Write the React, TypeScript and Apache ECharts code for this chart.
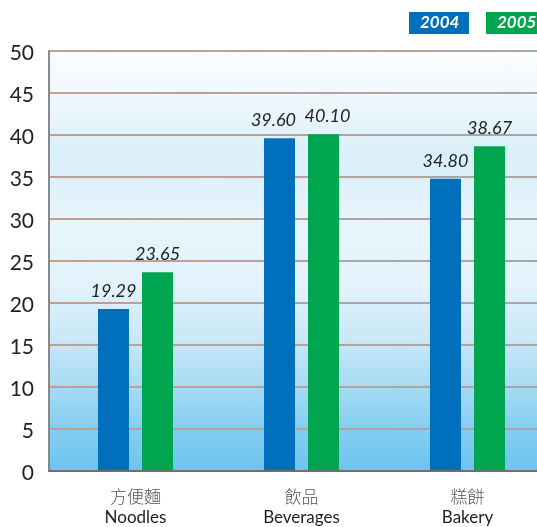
import React, { useEffect, useRef } from "react";
import * as echarts from "echarts";

const categoriesZh = ["方便麵", "飲品", "糕餅"];
const categoriesEn = ["Noodles", "Beverages", "Bakery"];
const seriesNames = ["2004", "2005"];
const values2004 = [19.29, 39.6, 34.8];
const values2005 = [23.65, 40.1, 38.67];
const yTicks = [0, 5, 10, 15, 20, 25, 30, 35, 40, 45, 50];

const BLUE = "#0070bd";
const GREEN = "#00a54f";

export default function App() {
  const ref = useRef<HTMLDivElement>(null);
  useEffect(() => {
    if (!ref.current) return;
    const chart = echarts.init(ref.current, null, { renderer: "svg" });
    const lineGrad = new echarts.graphic.LinearGradient(
      49,
      0,
      537,
      0,
      [
        { offset: 0, color: "#c29e8e" },
        { offset: 0.45, color: "#b9a29a" },
        { offset: 1, color: "#a8a6a5" },
      ],
      true
    );
    const bgGrad = new echarts.graphic.LinearGradient(0, 0, 0, 1, [
      { offset: 0, color: "#fbfdfe" },
      { offset: 0.12, color: "#eef7fc" },
      { offset: 0.25, color: "#d9effa" },
      { offset: 0.4, color: "#e6f4fb" },
      { offset: 0.55, color: "#e4f3fb" },
      { offset: 0.68, color: "#cbe8f8" },
      { offset: 0.8, color: "#a6dbf4" },
      { offset: 0.9, color: "#84cef1" },
      { offset: 1, color: "#6cc5ee" },
    ]);
    const labelBase = {
      show: true,
      position: "top" as const,
      distance: 10,
      fontFamily: "Lato",
      fontStyle: "italic" as const,
      fontSize: 18,
      color: "#222",
      formatter: (p: any) => Number(p.value).toFixed(2),
    };
    const shift2004 = [0, -6, 0];
    const shift2005 = [0, 4, 0];
    const yMin = yTicks[0];
    const yMax = yTicks[yTicks.length - 1];
    chart.setOption({
      animation: false,
      grid: [
        {
          left: 52.5,
          top: 51,
          width: 498,
          height: 420,
          show: false,
          containLabel: false,
          outerBoundsMode: "none",
        },
        {
          left: 49,
          top: 51,
          width: 488,
          height: 420,
          show: true,
          backgroundColor: bgGrad,
          borderWidth: 0,
          containLabel: false,
          outerBoundsMode: "none",
        },
      ],
      legend: { show: false },
      xAxis: [
        {
          type: "category",
          gridIndex: 0,
          data: categoriesEn.map((en, i) => categoriesZh[i] + "\n" + en),
          axisLine: { show: false },
          axisTick: { show: false },
          axisLabel: {
            margin: 13,
            formatter: (v: string) => {
              const [zh, en] = v.split("\n");
              return "{zh|" + zh + "}\n{en|" + en + "}";
            },
            rich: {
              zh: {
                fontFamily: "Noto Sans CJK TC",
                fontWeight: 300,
                fontSize: 17,
                color: "#555",
                lineHeight: 22,
              },
              en: {
                fontFamily: "Lato",
                fontSize: 17,
                color: "#1e1e1e",
                lineHeight: 21,
              },
            },
          },
        },
        {
          type: "category",
          gridIndex: 1,
          data: ["a"],
          axisLine: { show: true, lineStyle: { color: "#6f6f6f", width: 2 } },
          axisTick: { show: false },
          axisLabel: { show: false },
          splitLine: { show: false },
          z: 5,
        },
      ],
      yAxis: [
        {
          type: "value",
          gridIndex: 0,
          min: yMin,
          max: yMax,
          interval: 5,
          show: false,
          splitLine: { show: false },
        },
        {
          type: "value",
          gridIndex: 1,
          min: yMin,
          max: yMax,
          interval: 5,
          axisLine: { show: true, lineStyle: { color: "#8a8a8a", width: 2 } },
          axisTick: { show: false },
          axisLabel: {
            margin: 15,
            fontFamily: "Lato",
            fontSize: 21,
            color: "#222",
          },
          splitLine: { show: true, lineStyle: { color: lineGrad, width: 2 } },
        },
      ],
      series: [
        {
          name: seriesNames[0],
          type: "bar",
          xAxisIndex: 0,
          yAxisIndex: 0,
          data: values2004.map((v, i) => ({
            value: v,
            label: { offset: [shift2004[i], 0] },
          })),
          barWidth: 31,
          barGap: "42%",
          itemStyle: { color: BLUE },
          label: labelBase,
          z: 3,
        },
        {
          name: seriesNames[1],
          type: "bar",
          xAxisIndex: 0,
          yAxisIndex: 0,
          data: values2005.map((v, i) => ({
            value: v,
            label: { offset: [shift2005[i], 0] },
          })),
          barWidth: 31,
          itemStyle: { color: GREEN },
          label: labelBase,
          z: 3,
        },
      ],
      graphic: [
        {
          type: "rect",
          left: 409,
          top: 12,
          shape: { width: 60, height: 22 },
          style: { fill: BLUE },
        },
        {
          type: "text",
          left: 420,
          top: 13,
          style: {
            text: seriesNames[0],
            fill: "#fff",
            fontFamily: "Lato",
            fontStyle: "italic",
            fontWeight: "bold",
            fontSize: 17,
          },
        },
        {
          type: "rect",
          left: 486,
          top: 12,
          shape: { width: 60, height: 22 },
          style: { fill: GREEN },
        },
        {
          type: "text",
          left: 497,
          top: 13,
          style: {
            text: seriesNames[1],
            fill: "#fff",
            fontFamily: "Lato",
            fontStyle: "italic",
            fontWeight: "bold",
            fontSize: 17,
          },
        },
      ],
    });
    return () => chart.dispose();
  }, []);
  return (
    <div
      ref={ref}
      style={{ position: "fixed", left: 0, top: 0, width: 537, height: 527 }}
    />
  );
}
